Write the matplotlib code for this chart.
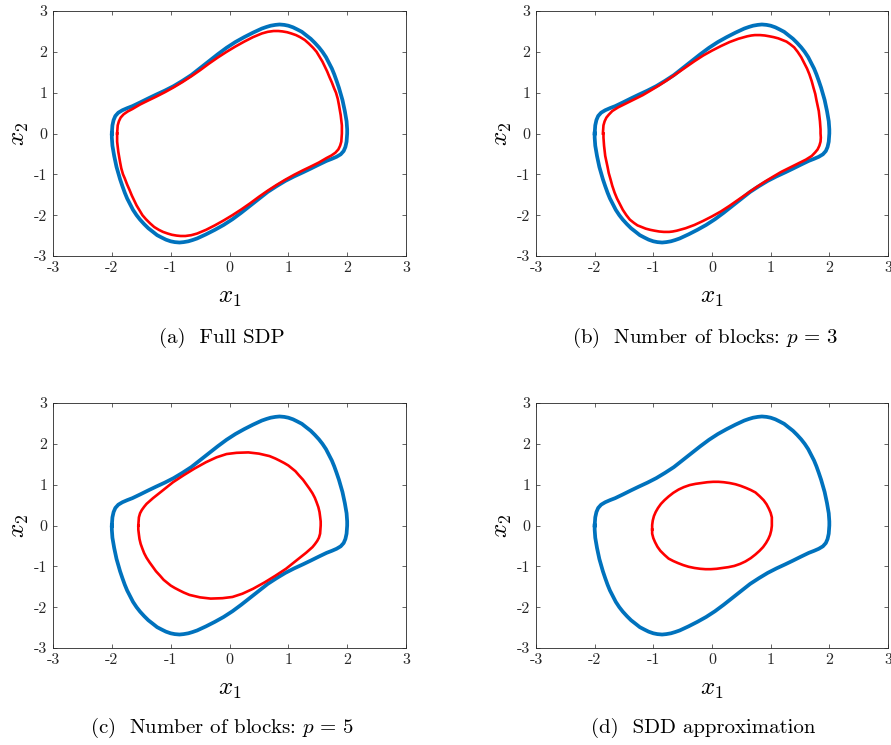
import matplotlib
matplotlib.use('Agg')
import matplotlib.pyplot as plt

plt.rcParams['font.family'] = ['cmr10', 'DejaVu Serif']
plt.rcParams['mathtext.fontset'] = 'cm'
plt.rcParams['axes.unicode_minus'] = False
plt.rcParams['axes.formatter.use_mathtext'] = True

# outer (blue) curve, same in every panel
roa_x = [-2.00, -1.995, -1.99, -1.97, -1.94, -1.89, -1.82, -1.74, -1.65, -1.52,
         -1.38, -1.25, -1.10, -0.95, -0.80, -0.65, -0.50, -0.35, -0.20, -0.05,
         0.10, 0.25, 0.40, 0.55, 0.63, 0.70, 0.78, 0.85, 0.93, 1.00,
         1.08, 1.15, 1.23, 1.30, 1.38, 1.45, 1.52, 1.58, 1.64, 1.69,
         1.74, 1.78, 1.82, 1.86, 1.89, 1.92, 1.96, 1.99, 2.00, 2.00,
         1.995, 1.99, 1.97, 1.94, 1.89, 1.82, 1.74, 1.65, 1.52,
         1.38, 1.25, 1.10, 0.95, 0.80, 0.65, 0.50, 0.35, 0.20, 0.05,
         -0.10, -0.25, -0.40, -0.55, -0.63, -0.70, -0.78, -0.85, -0.93, -1.00,
         -1.08, -1.15, -1.23, -1.30, -1.38, -1.45, -1.52, -1.58, -1.64, -1.69,
         -1.74, -1.78, -1.82, -1.86, -1.89, -1.92, -1.96, -1.99, -2.00, -2.00]
roa_y = [0.00, 0.10, 0.20, 0.33, 0.43, 0.51, 0.57, 0.62, 0.67, 0.76,
         0.86, 0.95, 1.05, 1.16, 1.29, 1.43, 1.60, 1.77, 1.94, 2.10,
         2.24, 2.36, 2.47, 2.57, 2.61, 2.64, 2.66, 2.67, 2.66, 2.64,
         2.60, 2.55, 2.49, 2.41, 2.32, 2.22, 2.11, 2.00, 1.87, 1.73,
         1.59, 1.45, 1.29, 1.12, 0.97, 0.82, 0.55, 0.30, 0.10, 0.00,
         -0.10, -0.20, -0.33, -0.43, -0.51, -0.57, -0.62, -0.67, -0.76,
         -0.86, -0.95, -1.05, -1.16, -1.29, -1.43, -1.60, -1.77, -1.94, -2.10,
         -2.24, -2.36, -2.47, -2.57, -2.61, -2.64, -2.66, -2.67, -2.66, -2.64,
         -2.60, -2.55, -2.49, -2.41, -2.32, -2.22, -2.11, -2.00, -1.87, -1.73,
         -1.59, -1.45, -1.29, -1.12, -0.97, -0.82, -0.55, -0.30, -0.10, 0.00]

# inner (red) curves
full_x = [-1.91, -1.905, -1.90, -1.88, -1.85, -1.80, -1.73, -1.65, -1.52, -1.38,
          -1.25, -1.10, -0.95, -0.80, -0.65, -0.50, -0.35, -0.20, -0.05, 0.10,
          0.25, 0.40, 0.55, 0.65, 0.75, 0.83, 0.90, 0.98, 1.05, 1.13,
          1.20, 1.28, 1.35, 1.42, 1.48, 1.53, 1.58, 1.62, 1.66, 1.70,
          1.74, 1.78, 1.81, 1.84, 1.86, 1.89, 1.91, 1.91,
          1.905, 1.90, 1.88, 1.85, 1.80, 1.73, 1.65, 1.52, 1.38,
          1.25, 1.10, 0.95, 0.80, 0.65, 0.50, 0.35, 0.20, 0.05, -0.10,
          -0.25, -0.40, -0.55, -0.65, -0.75, -0.83, -0.90, -0.98, -1.05, -1.13,
          -1.20, -1.28, -1.35, -1.42, -1.48, -1.53, -1.58, -1.62, -1.66, -1.70,
          -1.74, -1.78, -1.81, -1.84, -1.86, -1.89, -1.91, -1.91]
full_y = [0.00, 0.10, 0.20, 0.30, 0.39, 0.47, 0.54, 0.60, 0.71, 0.81,
          0.90, 1.01, 1.13, 1.26, 1.40, 1.55, 1.71, 1.86, 2.00, 2.13,
          2.25, 2.36, 2.45, 2.49, 2.51, 2.51, 2.50, 2.48, 2.45, 2.41,
          2.36, 2.29, 2.20, 2.10, 2.00, 1.88, 1.76, 1.64, 1.52, 1.38,
          1.25, 1.10, 1.00, 0.85, 0.70, 0.45, 0.20, 0.00,
          -0.10, -0.20, -0.30, -0.39, -0.47, -0.54, -0.60, -0.71, -0.81,
          -0.90, -1.01, -1.13, -1.26, -1.40, -1.55, -1.71, -1.86, -2.00, -2.13,
          -2.25, -2.36, -2.45, -2.49, -2.51, -2.51, -2.50, -2.48, -2.45, -2.41,
          -2.36, -2.29, -2.20, -2.10, -2.00, -1.88, -1.76, -1.64, -1.52, -1.38,
          -1.25, -1.10, -1.00, -0.85, -0.70, -0.45, -0.20, 0.00]

p3_x = [-1.86, -1.855, -1.85, -1.83, -1.80, -1.76, -1.70, -1.60, -1.46, -1.32,
        -1.18, -1.05, -0.90, -0.75, -0.60, -0.45, -0.30, -0.15, 0.00, 0.15,
        0.30, 0.45, 0.60, 0.67, 0.73, 0.82, 0.90, 0.98, 1.05, 1.13,
        1.20, 1.27, 1.33, 1.40, 1.46, 1.52, 1.57, 1.62, 1.66, 1.70,
        1.73, 1.76, 1.78, 1.82, 1.84, 1.85, 1.85,
        1.855, 1.85, 1.83, 1.80, 1.76, 1.70, 1.60, 1.46, 1.32,
        1.18, 1.05, 0.90, 0.75, 0.60, 0.45, 0.30, 0.15, 0.00, -0.15,
        -0.30, -0.45, -0.60, -0.67, -0.73, -0.82, -0.90, -0.98, -1.05, -1.13,
        -1.20, -1.27, -1.33, -1.40, -1.46, -1.52, -1.57, -1.62, -1.66, -1.70,
        -1.73, -1.76, -1.78, -1.82, -1.84, -1.85, -1.85]
p3_y = [0.00, 0.10, 0.20, 0.30, 0.39, 0.46, 0.55, 0.64, 0.74, 0.84,
        0.94, 1.05, 1.18, 1.32, 1.47, 1.62, 1.77, 1.91, 2.03, 2.14,
        2.24, 2.32, 2.38, 2.40, 2.41, 2.41, 2.40, 2.38, 2.36, 2.33,
        2.29, 2.25, 2.19, 2.11, 2.00, 1.87, 1.73, 1.59, 1.45, 1.28,
        1.12, 0.97, 0.82, 0.55, 0.30, 0.10, 0.00,
        -0.10, -0.20, -0.30, -0.39, -0.46, -0.55, -0.64, -0.74, -0.84,
        -0.94, -1.05, -1.18, -1.32, -1.47, -1.62, -1.77, -1.91, -2.03, -2.14,
        -2.24, -2.32, -2.38, -2.40, -2.41, -2.41, -2.40, -2.38, -2.36, -2.33,
        -2.29, -2.25, -2.19, -2.11, -2.00, -1.87, -1.73, -1.59, -1.45, -1.28,
        -1.12, -0.97, -0.82, -0.55, -0.30, -0.10, 0.00]

p5_x = [-1.55, -1.545, -1.54, -1.52, -1.49, -1.45, -1.41, -1.30, -1.16, -0.96,
        -0.78, -0.60, -0.40, -0.22, -0.05, 0.12, 0.32, 0.50, 0.68, 0.78,
        0.85, 0.93, 1.00, 1.06, 1.12, 1.18, 1.25, 1.30, 1.36, 1.41,
        1.45, 1.48, 1.51, 1.53, 1.54, 1.55, 1.55,
        1.545, 1.54, 1.52, 1.49, 1.45, 1.41, 1.30, 1.16, 0.96,
        0.78, 0.60, 0.40, 0.22, 0.05, -0.12, -0.32, -0.50, -0.68, -0.78,
        -0.85, -0.93, -1.00, -1.06, -1.12, -1.18, -1.25, -1.30, -1.36, -1.41,
        -1.45, -1.48, -1.51, -1.53, -1.54, -1.55, -1.55]
p5_y = [0.00, 0.10, 0.20, 0.30, 0.38, 0.46, 0.53, 0.67, 0.83, 1.06,
        1.23, 1.39, 1.55, 1.67, 1.75, 1.78, 1.79, 1.76, 1.70, 1.64,
        1.59, 1.53, 1.47, 1.40, 1.33, 1.23, 1.12, 1.02, 0.90, 0.79,
        0.68, 0.57, 0.45, 0.33, 0.22, 0.10, 0.00,
        -0.10, -0.20, -0.30, -0.38, -0.46, -0.53, -0.67, -0.83, -1.06,
        -1.23, -1.39, -1.55, -1.67, -1.75, -1.78, -1.79, -1.76, -1.70, -1.64,
        -1.59, -1.53, -1.47, -1.40, -1.33, -1.23, -1.12, -1.02, -0.90, -0.79,
        -0.68, -0.57, -0.45, -0.33, -0.22, -0.10, 0.00]

sdd_x = [-1.02, -1.02, -1.01, -0.99, -0.96, -0.92, -0.87, -0.81, -0.74, -0.66,
         -0.57, -0.48, -0.38, -0.28, -0.18, -0.08, 0.02, 0.11, 0.20, 0.30,
         0.40, 0.49, 0.58, 0.66, 0.74, 0.81, 0.88, 0.93, 0.97, 1.00,
         1.02, 1.02,
         1.02, 1.01, 0.99, 0.96, 0.92, 0.87, 0.81, 0.74, 0.66,
         0.57, 0.48, 0.38, 0.28, 0.18, 0.08, -0.02, -0.11, -0.20, -0.30,
         -0.40, -0.49, -0.58, -0.66, -0.74, -0.81, -0.88, -0.93, -0.97, -1.00,
         -1.02, -1.02]
sdd_y = [-0.10, 0.01, 0.12, 0.23, 0.33, 0.43, 0.53, 0.62, 0.71, 0.80,
         0.88, 0.94, 0.99, 1.02, 1.04, 1.06, 1.07, 1.07, 1.06, 1.04,
         1.01, 0.97, 0.92, 0.87, 0.81, 0.72, 0.62, 0.52, 0.41, 0.31,
         0.20, 0.10,
         -0.01, -0.12, -0.23, -0.33, -0.43, -0.53, -0.62, -0.71, -0.80,
         -0.88, -0.94, -0.99, -1.02, -1.04, -1.06, -1.07, -1.07, -1.06, -1.04,
         -1.01, -0.97, -0.92, -0.87, -0.81, -0.72, -0.62, -0.52, -0.41, -0.31,
         -0.20, -0.10]

ticks = [-3, -2, -1, 0, 1, 2, 3]
tick_labels = ['-3', '-2', '-1', '0', '1', '2', '3']
captions = ['(a)  Full SDP',
            r'(b)  Number of blocks: $p\,=\,3$',
            r'(c)  Number of blocks: $p\,=\,5$',
            '(d)  SDD approximation']
inner = [(full_x, full_y), (p3_x, p3_y), (p5_x, p5_y), (sdd_x, sdd_y)]

blue = '#0072BD'
dark = '#262626'
W, H = 891, 745
fig = plt.figure(figsize=(W / 100, H / 100), dpi=100)

# axes boxes in pixels: left, top, right, bottom
boxes = [(53, 11, 406, 256), (536, 11, 888, 256),
         (53, 403, 406, 648), (536, 403, 888, 648)]
cap_pos = [(222, 338), (705, 338), (222, 728), (703, 728)]

for i, (l, t, r, b) in enumerate(boxes):
    ax = fig.add_axes([l / W, 1 - b / H, (r - l) / W, (b - t) / H])
    ax.plot(roa_x, roa_y, color=blue, lw=2.7, solid_joinstyle='round')
    ax.plot(inner[i][0], inner[i][1], color='red', lw=1.9, solid_joinstyle='round')
    ax.set_xlim(-3, 3)
    ax.set_ylim(-3, 3)
    ax.set_xticks(ticks)
    ax.set_yticks(ticks)
    ax.set_xticklabels(tick_labels)
    ax.set_yticklabels(tick_labels)
    ax.tick_params(direction='in', top=True, right=True, length=3, width=0.5,
                   color=dark, labelsize=11.5, labelcolor=dark, pad=4)
    for s in ax.spines.values():
        s.set_linewidth(0.6)
        s.set_color(dark)
    ax.set_xlabel('$x_1$', fontsize=18, labelpad=8.5)
    ax.set_ylabel('$x_2$', fontsize=18, labelpad=2)
    fig.text(cap_pos[i][0] / W, 1 - cap_pos[i][1] / H, captions[i],
             ha='center', va='center', fontsize=15)

fig.savefig('out.png', dpi=100)
